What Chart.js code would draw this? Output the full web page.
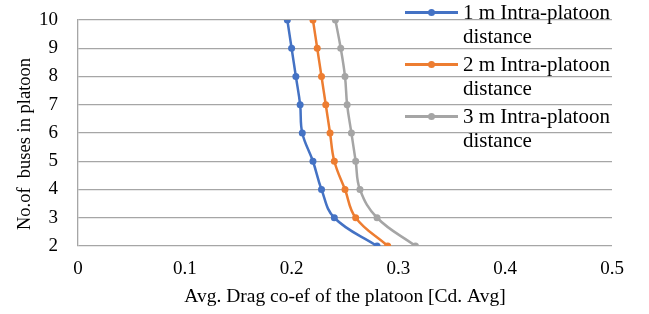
<!DOCTYPE html>
<html>
<head>
<meta charset="utf-8">
<script src="https://cdn.jsdelivr.net/npm/chart.js@4"></script>
<style>
  body { margin: 0; background: #fff; }
  #wrap { position: relative; width: 649px; height: 314px; }
  #legend { position: absolute; left: 405px; top: 0; font-family: "Liberation Serif", serif; font-size: 21px; color: #000; }
  .item { display: flex; align-items: flex-start; height: 52px; }
  .swatch { position: relative; width: 53px; height: 24px; margin-right: 5px; flex: none; }
  .swatch .ln { position: absolute; left: 0; right: 0; top: 11px; height: 3px; }
  .swatch .dot { position: absolute; left: 23px; top: 9px; width: 7px; height: 7px; border-radius: 50%; }
  .txt { line-height: 24px; width: 170px; }
</style>
</head>
<body>
<div id="wrap">
  <canvas id="chart" width="649" height="314"></canvas>
  <div id="legend"></div>
</div>
<script>
const busCount = [10, 9, 8, 7, 6, 5, 4, 3, 2];
const drag1m = [0.196, 0.200, 0.204, 0.208, 0.210, 0.220, 0.228, 0.240, 0.280];
const drag2m = [0.220, 0.224, 0.228, 0.232, 0.236, 0.240, 0.250, 0.260, 0.290];
const drag3m = [0.241, 0.246, 0.250, 0.252, 0.256, 0.260, 0.264, 0.280, 0.316];
const seriesLabels = ["1 m Intra-platoon distance", "2 m Intra-platoon distance", "3 m Intra-platoon distance"];
const seriesColors = ["#4472C4", "#ED7D31", "#A5A5A5"];
const xTitle = "Avg. Drag co-ef of the platoon [Cd. Avg]";
const yTitle = "No.of  buses in platoon";

const font = "'Liberation Serif', serif";

function toPoints(xs) {
  return xs.map((x, i) => ({ x: x, y: busCount[i] }));
}

// y title drawn by hand, nudged down a bit like the original
const yTitlePlugin = {
  id: "yTitle",
  afterDraw(c) {
    const { ctx, chartArea } = c;
    ctx.save();
    ctx.translate(25, (chartArea.top + chartArea.bottom) / 2 + 11);
    ctx.rotate(-Math.PI / 2);
    ctx.font = "18.5px " + font;
    ctx.fillStyle = "#000";
    ctx.textAlign = "center";
    ctx.textBaseline = "middle";
    ctx.fillText(yTitle, 0, 0);
    ctx.restore();
  }
};

const datasets = [drag1m, drag2m, drag3m].map((vals, i) => ({
  label: seriesLabels[i],
  data: toPoints(vals),
  showLine: true,
  borderColor: seriesColors[i],
  backgroundColor: seriesColors[i],
  borderWidth: 2.5,
  pointRadius: 3.5,
  pointBorderWidth: 0,
  tension: 0.4
}));

const chart = new Chart(document.getElementById("chart"), {
  type: "scatter",
  data: { datasets },
  plugins: [yTitlePlugin],
  options: {
    responsive: false,
    animation: false,
    layout: { autoPadding: false, padding: { top: 20, right: 37, left: 0, bottom: 0 } },
    plugins: {
      legend: { display: false },
      tooltip: { enabled: false }
    },
    scales: {
      x: {
        min: 0,
        max: 0.5,
        ticks: { stepSize: 0.1, color: "#000", padding: 12, font: { family: font, size: 19 } },
        grid: { display: false, drawTicks: false },
        border: { display: false },
        title: { display: true, text: xTitle, color: "#000",
                 font: { family: font, size: 19.5 }, padding: { top: 0, bottom: 5 } },
        afterFit: s => { s.height = 68; s.paddingLeft = 0; s.paddingRight = 0; }
      },
      y: {
        min: 2,
        max: 10,
        ticks: { stepSize: 1, color: "#000", padding: 20, font: { family: font, size: 19 } },
        grid: { color: "#a6a6a6", lineWidth: 1.3, drawTicks: false },
        border: { display: true, color: "#a6a6a6", width: 1.3 },
        afterFit: s => { s.width = 78; s.paddingTop = 0; s.paddingBottom = 0; }
      }
    }
  }
});

document.getElementById("legend").innerHTML = chart.data.datasets.map(d => `
  <div class="item">
    <div class="swatch"><div class="ln" style="background:${d.borderColor}"></div><div class="dot" style="background:${d.borderColor}"></div></div>
    <div class="txt">${d.label}</div>
  </div>`).join("");
</script>
</body>
</html>
